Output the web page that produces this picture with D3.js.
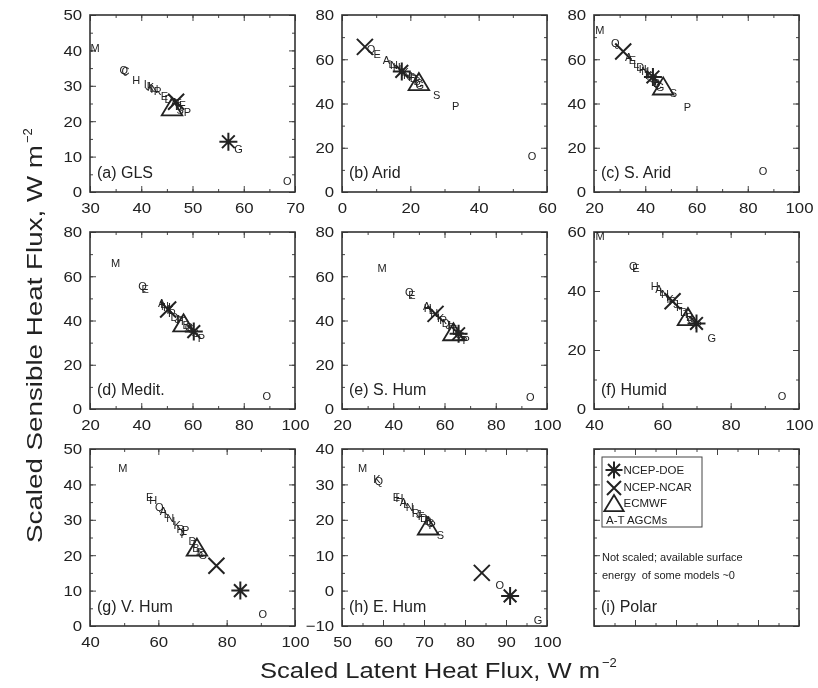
<!DOCTYPE html>
<html>
<head>
  <script src="https://cdnjs.cloudflare.com/ajax/libs/d3/7.8.5/d3.min.js"></script>
  <style>
    body { margin: 0; background: #fff; }
    svg { will-change: transform; }
    text { font-family: "Liberation Sans", Arial, Helvetica, sans-serif; fill: #222; }
  </style>
</head>
<body>
<script>
// panel setup
var panelLabels = ["(a) GLS", "(b) Arid", "(c) S. Arid", "(d) Medit.", "(e) S. Hum", "(f) Humid", "(g) V. Hum", "(h) E. Hum", "(i) Polar"];
var xDomains = [[30, 70], [0, 60], [20, 100], [20, 100], [20, 100], [40, 100], [40, 100], [50, 100]];
var yDomains = [[0, 50], [0, 80], [0, 80], [0, 80], [0, 80], [0, 60], [0, 50], [-10, 40]];
var xTicks = [[30, 40, 50, 60, 70], [0, 20, 40, 60], [20, 40, 60, 80, 100], [20, 40, 60, 80, 100], [20, 40, 60, 80, 100], [40, 60, 80, 100], [40, 60, 80, 100], [50, 60, 70, 80, 90, 100]];
var yTicks = [[0, 10, 20, 30, 40, 50], [0, 20, 40, 60, 80], [0, 20, 40, 60, 80], [0, 20, 40, 60, 80], [0, 20, 40, 60, 80], [0, 20, 40, 60], [0, 10, 20, 30, 40, 50], [-10, 0, 10, 20, 30, 40]];
var xMinor = [5, 10, 10, 10, 10, 10, 10, 5];
var yMinor = [5, 10, 10, 10, 10, 10, 5, 5];

// reanalyses: latent (x), sensible (y) per panel a..h
var doeLatent   = [57, 17.5, 43, 60.5, 65.5, 70, 84, 91];
var doeSensible = [14.2, 54.5, 52, 35, 34, 29, 10, -1.5];
var ncarLatent   = [46.8, 6.7, 31.4, 50.5, 56.5, 63, 77, 84.1];
var ncarSensible = [25.5, 65.6, 63.5, 45, 43, 36.5, 17, 5];
var ecmwfLatent   = [46, 22.5, 47, 56.5, 63.5, 67.5, 71.3, 71];
var ecmwfSensible = [23.8, 49.5, 47.5, 38.5, 34.5, 31, 22, 18];

// A-T AGCMs, letter codes per panel
var glsModel = ["M", "Q", "C", "H", "I", "J", "K", "L", "N", "R", "E", "D", "A", "T", "B", "F", "S", "P", "G", "O"];
var glsLatent = [31, 36.6, 36.9, 39, 40.8, 41.3, 41.8, 42.2, 42.6, 43.2, 44.5, 45.3, 46.5, 47.2, 47.3, 48, 47.6, 49, 59, 68.5];
var glsSensible = [40.5, 34.3, 34.0, 31.5, 30.5, 30, 29.5, 29.3, 29, 28.5, 27, 26.3, 25.5, 25, 24.2, 24.5, 23.2, 22.5, 12, 3];

var aridModel = ["Q", "E", "A", "L", "N", "H", "I", "K", "R", "J", "F", "D", "T", "B", "C", "G", "S", "P", "O"];
var aridLatent = [8.5, 10.3, 13, 14.5, 15.2, 16, 17, 18.5, 19, 19.8, 20.3, 21, 21.5, 22, 22.5, 22.8, 27.7, 33.3, 55.6];
var aridSensible = [64.5, 62.3, 59.5, 58, 57.5, 56.5, 55.5, 54, 53, 52.5, 52, 51.5, 51, 50, 49, 48.5, 44, 38.6, 16];

var saridModel = ["M", "Q", "A", "E", "L", "D", "H", "N", "I", "K", "R", "J", "F", "T", "B", "C", "G", "S", "P", "O"];
var saridLatent = [22.3, 28.3, 33.5, 35, 36.5, 38, 39, 40, 40.7, 41.3, 42, 42.5, 43.5, 44, 44.5, 45, 45.8, 51, 56.5, 86];
var saridSensible = [73.3, 67.3, 61, 59.5, 58, 56.5, 55.5, 54.5, 54, 53, 52.5, 51.5, 51, 50, 49, 48.5, 47.5, 44.5, 38.5, 9.3];

var meditModel = ["M", "Q", "E", "A", "L", "N", "H", "I", "K", "R", "D", "J", "F", "T", "B", "C", "G", "S", "P", "O"];
var meditLatent = [30, 40.5, 41.5, 48, 48.6, 49.3, 50, 50.5, 51.3, 52, 53, 54, 55, 56, 57.5, 58.5, 59.5, 61, 63.5, 89];
var meditSensible = [66, 55.5, 54.3, 48, 47.2, 46.5, 46, 45.2, 44.6, 43.5, 41.5, 40.5, 40, 39.5, 38, 37, 36, 34.5, 31.8, 6];

var shumModel = ["M", "Q", "E", "A", "H", "L", "N", "I", "K", "R", "D", "J", "F", "T", "B", "C", "G", "S", "P", "O"];
var shumLatent = [35.6, 46.3, 47.3, 53, 53.5, 55, 56, 57.5, 58.5, 59.5, 60.5, 61.5, 62.5, 63.5, 64.5, 65.5, 66.5, 67.5, 68.5, 93.5];
var shumSensible = [63.6, 52.8, 51.5, 46.5, 45.5, 44.5, 43.5, 42, 41, 40, 39, 38, 37, 36, 35, 34, 33, 32.5, 31, 5.5];

var humidModel = ["M", "Q", "E", "H", "A", "L", "N", "I", "K", "R", "J", "F", "D", "T", "B", "C", "S", "P", "G", "O"];
var humidLatent = [41.8, 51.5, 52.3, 57.8, 59, 60, 60.8, 61.5, 62.3, 63, 64, 65, 66.3, 67, 68, 68.5, 69, 70.5, 74.5, 95];
var humidSensible = [58.5, 48.3, 47.6, 41.8, 40.5, 39.5, 38.8, 38, 37.3, 36.5, 35.5, 34.5, 33, 32, 31, 30, 29.5, 28.5, 24, 4.5];

var vhumModel = ["M", "E", "H", "Q", "A", "L", "N", "I", "K", "R", "J", "F", "P", "D", "T", "B", "S", "C", "G", "O"];
var vhumLatent = [49.6, 57.5, 58.5, 60.3, 61.5, 62.5, 63.5, 64.5, 65.5, 66.5, 67, 67.5, 68, 70, 70.5, 71, 72, 72.5, 73, 90.6];
var vhumSensible = [44.6, 36.5, 35.5, 33.5, 32.5, 31.5, 30.5, 29.5, 28.5, 27.5, 26.5, 26, 27, 24, 23, 22, 21, 20.5, 20, 3.4];

var ehumModel = ["M", "K", "Q", "E", "H", "A", "L", "N", "I", "R", "J", "F", "D", "T", "B", "C", "P", "S", "O", "G"];
var ehumLatent = [55, 58.5, 59, 63.3, 64, 65, 65.7, 66.5, 67.3, 68, 68.7, 69.3, 70, 70.5, 71, 71.5, 72, 74, 88.5, 97.8];
var ehumSensible = [34.6, 31.5, 31, 26.5, 26, 25, 24.3, 23.5, 23, 22, 21.5, 21, 20.5, 20, 19.5, 19, 18.5, 15.6, 1.4, -8.3];

var models = [glsModel, aridModel, saridModel, meditModel, shumModel, humidModel, vhumModel, ehumModel];
var latents = [glsLatent, aridLatent, saridLatent, meditLatent, shumLatent, humidLatent, vhumLatent, ehumLatent];
var sensibles = [glsSensible, aridSensible, saridSensible, meditSensible, shumSensible, humidSensible, vhumSensible, ehumSensible];

var legendNames = ["NCEP-DOE", "NCEP-NCAR", "ECMWF", "A-T AGCMs"];

var W = 205, H = 177;
var lefts = [90, 342, 594], tops = [15, 232, 449];
var ink = "#222";

var svg = d3.select("body").append("svg")
    .attr("width", 818)
    .attr("height", 688);

function asterisk(g, cx, cy, r) {
  var p = "";
  for (var k = 0; k < 4; k++) {
    var a = k * Math.PI / 4;
    p += "M" + (cx - r * Math.cos(a)) + "," + (cy - r * Math.sin(a)) + "L" + (cx + r * Math.cos(a)) + "," + (cy + r * Math.sin(a));
  }
  g.append("path").attr("d", p).attr("stroke", ink).attr("stroke-width", 2).attr("fill", "none");
}
function cross(g, cx, cy, r) {
  var p = "M" + (cx - r) + "," + (cy - r) + "L" + (cx + r) + "," + (cy + r) +
          "M" + (cx - r) + "," + (cy + r) + "L" + (cx + r) + "," + (cy - r);
  g.append("path").attr("d", p).attr("stroke", ink).attr("stroke-width", 2).attr("fill", "none");
}
function triangle(g, cx, cy, r) {
  var p = "M" + cx + "," + (cy - r) + "L" + (cx + r * 1.08) + "," + (cy + r * 0.8) + "L" + (cx - r * 1.08) + "," + (cy + r * 0.8) + "Z";
  g.append("path").attr("d", p).attr("stroke", ink).attr("stroke-width", 1.8).attr("fill", "none");
}

function minorTicks(dom, step) {
  return d3.range(dom[0], dom[1] + step / 2, step);
}
function fmt(d) { return d < 0 ? "\u2212" + (-d) : d; }

panelLabels.forEach(function(label, i) {
  var col = i % 3, row = Math.floor(i / 3);
  var g = svg.append("g").attr("transform", "translate(" + lefts[col] + "," + tops[row] + ")");

  var xd = xDomains[i] || [0, 100], yd = yDomains[i] || [0, 100];
  var x = d3.scaleLinear().domain(xd).range([0, W]);
  var y = d3.scaleLinear().domain(yd).range([H, 0]);
  var xt = xTicks[i] || [0, 20, 40, 60, 80, 100], yt = yTicks[i] || [0, 20, 40, 60, 80, 100];
  var xm = minorTicks(xd, xMinor[i] || 10), ym = minorTicks(yd, yMinor[i] || 10);
  var labelled = i < 8;

  // minor ticks on all sides
  [[d3.axisBottom(x), "translate(0," + H + ")", xm],
   [d3.axisTop(x), "translate(0,0)", xm],
   [d3.axisLeft(y), "translate(0,0)", ym],
   [d3.axisRight(y), "translate(" + W + ",0)", ym]].forEach(function(s) {
    var ax = g.append("g").attr("transform", s[1])
      .call(s[0].tickValues(s[2]).tickSize(-3).tickSizeOuter(0).tickFormat(""));
    ax.select(".domain").remove();
    ax.selectAll("line").attr("stroke", "#444");
  });

  // major ticks
  var bx = g.append("g").attr("transform", "translate(0," + H + ")")
    .call(d3.axisBottom(x).tickValues(xt).tickSize(-6).tickSizeOuter(0).tickPadding(10)
      .tickFormat(labelled ? fmt : ""));
  var tx = g.append("g").call(d3.axisTop(x).tickValues(xt).tickSize(-6).tickSizeOuter(0).tickFormat(""));
  var ly = g.append("g")
    .call(d3.axisLeft(y).tickValues(yt).tickSize(-6).tickSizeOuter(0).tickPadding(7)
      .tickFormat(labelled ? fmt : ""));
  var ry = g.append("g").attr("transform", "translate(" + W + ",0)")
    .call(d3.axisRight(y).tickValues(yt).tickSize(-6).tickSizeOuter(0).tickFormat(""));
  [bx, tx, ly, ry].forEach(function(ax) {
    ax.select(".domain").remove();
    ax.selectAll("line").attr("stroke", "#444");
    ax.selectAll("text").style("font-size", "15px").attr("fill", ink)
      .attr("transform", "scale(1.12,1)");
  });

  g.append("rect").attr("width", W).attr("height", H)
    .attr("fill", "none").attr("stroke", "#333").attr("stroke-width", 1.6);

  g.append("text").attr("x", 7).attr("y", H - 14)
    .style("font-size", "16px").text(label);

  if (labelled) {
    var cg = g.append("g");
    cg.selectAll("text.model")
      .data(models[i])
      .enter().append("text")
      .attr("class", "model")
      .attr("x", function(d, k) { return x(latents[i][k]); })
      .attr("y", function(d, k) { return y(sensibles[i][k]); })
      .attr("text-anchor", "middle")
      .attr("dy", "0.35em")
      .style("font-size", "11px")
      .attr("fill", "#333")
      .text(function(d) { return d; });

    asterisk(cg, x(doeLatent[i]), y(doeSensible[i]), 9);
    cross(cg, x(ncarLatent[i]), y(ncarSensible[i]), 8);
    triangle(cg, x(ecmwfLatent[i]), y(ecmwfSensible[i]), 9.5);
  } else {
    // legend box and note
    var lg = g.append("g").attr("transform", "translate(8,8)");
    lg.append("rect").attr("width", 100).attr("height", 70)
      .attr("fill", "none").attr("stroke", "#444").attr("stroke-width", 1);
    asterisk(lg, 12, 13, 8.5);
    cross(lg, 12, 31, 7);
    triangle(lg, 12, 47, 9);
    lg.selectAll("text.leg")
      .data(legendNames)
      .enter().append("text")
      .attr("class", "leg")
      .attr("x", function(d, k) { return k < 3 ? 21.5 : 4; })
      .attr("y", function(d, k) { return 17 + k * 16.5; })
      .style("font-size", "11.5px")
      .text(function(d) { return d; });

    g.append("text").attr("x", 8).attr("y", 112).style("font-size", "11px")
      .text("Not scaled; available surface");
    g.append("text").attr("x", 8).attr("y", 130).style("font-size", "11px")
      .attr("xml:space", "preserve")
      .text("energy  of some models ~0");
  }
});

// axis titles
svg.append("text").attr("x", 260).attr("y", 678)
  .attr("textLength", 340).attr("lengthAdjust", "spacingAndGlyphs")
  .style("font-size", "22px").text("Scaled Latent Heat Flux, W m");
svg.append("text").attr("x", 602).attr("y", 667).style("font-size", "13px").text("\u22122");

var yg = svg.append("g").attr("transform", "translate(42,543) rotate(-90)");
yg.append("text").attr("x", 0).attr("y", 0)
  .attr("textLength", 398).attr("lengthAdjust", "spacingAndGlyphs")
  .style("font-size", "22px").text("Scaled Sensible Heat Flux, W m");
yg.append("text").attr("x", 400).attr("y", -10).style("font-size", "13px").text("\u22122");
</script>
</body>
</html>
